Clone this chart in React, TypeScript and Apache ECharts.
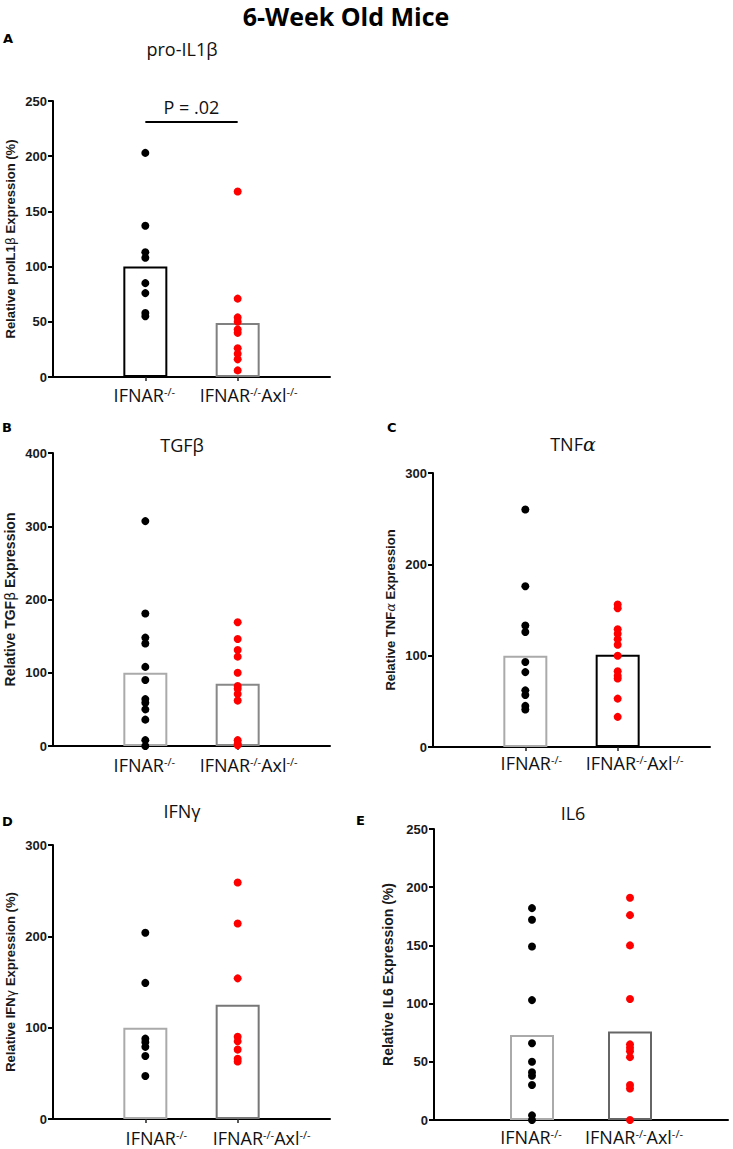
import React, { useEffect, useRef } from "react";
import * as echarts from "echarts";

// ---- data ----
const groupNames = ["", "IFNAR-/-", "IFNAR-/-Axl-/-", ""];
const panelTitles = ["pro-IL1β", "TGFβ", "TNFα", "IFNγ", "IL6"];
const panelLetters = ["A", "B", "C", "D", "E"];
const yNames = [
  "Relative proIL1{g|β} Expression (%)",
  "Relative TGF{g|β} Expression",
  "Relative TNF{a|α} Expression",
  "Relative IFN{g|γ} Expression (%)",
  "Relative IL6 Expression (%)",
];
const yMax = [250, 400, 300, 300, 250];
const yStep = [50, 100, 100, 100, 50];

const proIL1bWT = [203, 137, 113, 108, 85, 76, 58, 55];
const proIL1bAxl = [168, 71, 54, 50, 43, 40, 26, 21, 16, 6];
const proIL1bMeans = [100, 49];

const tgfbWT = [307, 181, 148, 140, 108, 90, 64, 59, 50, 36, 8, 0];
const tgfbAxl = [169, 146, 131, 122, 100, 82, 78, 71, 62, 8, 3, 1];
const tgfbMeans = [100, 85];

const tnfaWT = [260, 176, 133, 126, 93, 82, 62, 57, 45, 41];
const tnfaAxl = [156, 152, 129, 124, 118, 112, 100, 83, 78, 75, 53, 33];
const tnfaMeans = [100, 101];

const ifngWT = [204, 149, 88, 84, 79, 69, 47];
const ifngAxl = [259, 214, 154, 90, 85, 76, 66, 63];
const ifngMeans = [100, 125];

const il6WT = [182, 172, 149, 103, 66, 50, 41, 38, 30, 4, 0];
const il6Axl = [191, 176, 150, 104, 65, 62, 59, 54, 30, 27, 0];
const il6Means = [73, 76];

const pValueText = "P = .02";
const pValueLevel = 231;

const wtValues = [proIL1bWT, tgfbWT, tnfaWT, ifngWT, il6WT];
const axlValues = [proIL1bAxl, tgfbAxl, tnfaAxl, ifngAxl, il6Axl];
const meanValues = [proIL1bMeans, tgfbMeans, tnfaMeans, ifngMeans, il6Means];

// ---- layout / style ----
const FONT_T = "'Open Sans', sans-serif";
const FONT_B = "'Liberation Sans', Arial, sans-serif";
const layouts = [
  { left: 53, top: 101, width: 277, height: 276, nameSize: 13, nameGap: 36, lab: [-1, 11], labMargin: 9, titleX: 182, titleY: 49, letterX: 3, letterY: 38, barBorders: ["#000", "#808080"] },
  { left: 53, top: 453, width: 277, height: 293, nameSize: 14, nameGap: 36, lab: [-1, 11], labMargin: 10, titleX: 182, titleY: 445, letterX: 2, letterY: 427, barBorders: ["#aaaaaa", "#888888"] },
  { left: 433, top: 473, width: 277, height: 274, nameSize: 13, nameGap: 36, lab: [6, 17], labMargin: 7, titleX: 573, titleY: 444, letterX: 387, letterY: 427, barBorders: ["#aaaaaa", "#000"] },
  { left: 53, top: 845, width: 277, height: 274, nameSize: 13, nameGap: 36, lab: [11, 24], labMargin: 10, titleX: 182, titleY: 811, letterX: 2, letterY: 821, barBorders: ["#aaaaaa", "#777777"] },
  { left: 434, top: 829, width: 294, height: 291, nameSize: 14, nameGap: 39, lab: [-1, 4], labMargin: 8, titleX: 573, titleY: 813, letterX: 356, letterY: 820, barBorders: ["#aaaaaa", "#666666"] },
];

function buildOption() {
  const grid: any[] = [];
  const xAxis: any[] = [];
  const yAxis: any[] = [];
  const series: any[] = [];
  const graphic: any[] = [];

  layouts.forEach((L, i) => {
    grid.push({ left: L.left, top: L.top, width: L.width, height: L.height, containLabel: false });
    xAxis.push({
      type: "category",
      gridIndex: i,
      data: groupNames,
      boundaryGap: false,
      axisLine: { lineStyle: { color: "#000", width: 2 } },
      axisTick: { show: true, length: 4, interval: (idx: number) => idx === 1 || idx === 2, lineStyle: { color: "#222", width: 1.5 } },
      axisLabel: {
        interval: 0,
        margin: L.labMargin,
        formatter: (_v: string, idx: number) => {
          if (idx !== 1 && idx !== 2) return "";
          const s = L.lab[idx - 1];
          const tok = idx === 1 ? "p1" : "p2";
          const body = idx === 1 ? "{n|IFNAR}{s|-/-}" : "{n|IFNAR}{s|-/-}{n|Axl}{s|-/-}";
          if (s > 0) return "{" + tok + "|}" + body;
          if (s < 0) return body + "{" + tok + "|}";
          return body;
        },
        rich: {
          n: { fontSize: 18, fontFamily: FONT_T, color: "#111", lineHeight: 18, verticalAlign: "bottom" },
          s: { fontSize: 11, fontFamily: FONT_T, color: "#111", lineHeight: 10, verticalAlign: "top" },
          p1: { width: 2 * Math.abs(L.lab[0]) },
          p2: { width: 2 * Math.abs(L.lab[1]) },
        },
      },
      splitLine: { show: false },
    });

    yAxis.push({
      type: "value",
      gridIndex: i,
      min: 0,
      max: yMax[i],
      interval: yStep[i],
      name: yNames[i],
      nameLocation: "middle",
      nameRotate: 90,
      nameGap: L.nameGap,
      nameTextStyle: {
        fontSize: L.nameSize,
        fontWeight: "bold",
        fontFamily: FONT_B,
        color: "#1a1a1a",
        rich: {
          g: { fontSize: L.nameSize, fontWeight: "normal", fontFamily: "'DejaVu Sans', sans-serif", color: "#1a1a1a" },
          a: { fontSize: L.nameSize, fontWeight: "normal", fontStyle: "italic", fontFamily: "'DejaVu Serif', serif", color: "#1a1a1a" },
        },
      },
      axisLine: { show: true, lineStyle: { color: "#000", width: 2 } },
      axisTick: { show: true, length: 5, lineStyle: { color: "#000", width: 2 } },
      axisLabel: { fontSize: 13, fontWeight: "bold", fontFamily: FONT_B, color: "#1a1a1a", margin: 6 },
      splitLine: { show: false },
    });

    const barSeries: any = {
      type: "bar",
      xAxisIndex: i,
      yAxisIndex: i,
      barWidth: 44,
      z: 2,
      data: [
        "-",
        { value: meanValues[i][0], itemStyle: { color: "#fff", borderColor: L.barBorders[0], borderWidth: 2 } },
        { value: meanValues[i][1], itemStyle: { color: "#fff", borderColor: L.barBorders[1], borderWidth: 2 } },
        "-",
      ],
    };
    if (i === 0) {
      barSeries.markLine = {
        silent: true,
        symbol: "none",
        lineStyle: { color: "#000", width: 2, type: "solid" },
        label: { show: true, position: "middle", formatter: pValueText, fontSize: 18, fontFamily: FONT_T, color: "#111", distance: 6 },
        data: [[{ coord: [1, pValueLevel] }, { coord: [2, pValueLevel] }]],
      };
    }
    series.push(barSeries);
    series.push({
      type: "scatter",
      xAxisIndex: i,
      yAxisIndex: i,
      symbolSize: 8,
      z: 5,
      itemStyle: { color: "#000", opacity: 1 },
      data: wtValues[i].map((v) => [1, v]),
    });
    series.push({
      type: "scatter",
      xAxisIndex: i,
      yAxisIndex: i,
      symbolSize: 8,
      z: 5,
      itemStyle: { color: "#ff0000", opacity: 1 },
      data: axlValues[i].map((v) => [2, v]),
    });

    if (i === 2) {
      graphic.push({
        type: "text",
        x: L.titleX,
        y: L.titleY,
        style: {
          text: "{n|TNF}{a|α}",
          textAlign: "center",
          textVerticalAlign: "middle",
          rich: {
            n: { fontSize: 18, fontFamily: FONT_T, fill: "#111" },
            a: { fontSize: 19, fontFamily: "'DejaVu Serif', serif", fontStyle: "italic", fill: "#111" },
          },
        },
      });
    } else {
      graphic.push({
        type: "text",
        x: L.titleX,
        y: L.titleY,
        style: { text: panelTitles[i], font: "18px " + FONT_T, textAlign: "center", textVerticalAlign: "middle", fill: "#111" },
      });
    }
    graphic.push({
      type: "text",
      x: L.letterX,
      y: L.letterY,
      style: { text: panelLetters[i], font: "bold 13px 'DejaVu Sans', sans-serif", textAlign: "left", textVerticalAlign: "middle", fill: "#000" },
    });
  });

  graphic.push({
    type: "text",
    x: 346,
    y: 3,
    style: { text: "6-Week Old Mice", font: "bold 25px " + FONT_T, textAlign: "center", textVerticalAlign: "top", fill: "#000" },
  });

  return {
    animation: false,
    backgroundColor: "#fff",
    grid,
    xAxis,
    yAxis,
    series,
    graphic,
  };
}

export default function App() {
  const ref = useRef<HTMLDivElement>(null);
  useEffect(() => {
    if (!ref.current) return;
    const chart = echarts.init(ref.current, null, { renderer: "svg" });
    chart.setOption(buildOption() as any);
    return () => chart.dispose();
  }, []);
  return <div ref={ref} style={{ position: "absolute", left: 0, top: 0, width: 733, height: 1149 }} />;
}
